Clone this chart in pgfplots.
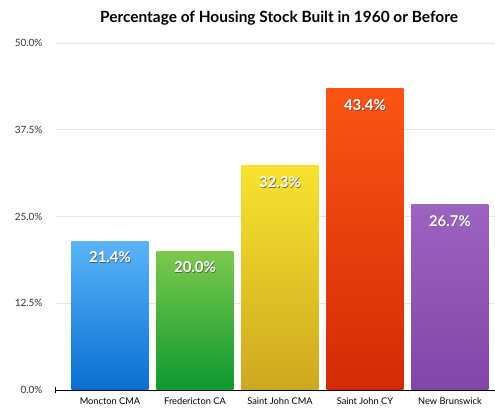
\documentclass[border=0pt]{standalone}
\usepackage{pgfplots}
\pgfplotsset{compat=1.18}
\usepackage{fontspec}
\setmainfont{Lato}
\usetikzlibrary{arrows.meta}
\definecolor{gridc}{HTML}{E6E6E6}
\definecolor{ticktxt}{HTML}{333333}
\begin{document}
\begin{tikzpicture}
\useasboundingbox (0,0) rectangle (495bp,409bp);
\node[font=\bfseries\fontsize{15.5}{17}\selectfont, text=black] at (279bp,391bp) {Percentage of Housing Stock Built in 1960 or Before};
\begin{axis}[
  at={(55bp,19bp)}, anchor=south west,
  scale only axis, width=440bp, height=347bp,
  xmin=-0.647, xmax=4.53, ymin=0, ymax=50,
  ybar, bar width=77bp, bar shift=0pt,
  axis x line*=bottom, axis y line*=left,
  x axis line style={{Bar[width=6bp]}-, black, line width=0.8pt},
  y axis line style={draw=none},
  major tick length=0pt,
  xtick={0,1,2,3,4},
  xticklabels={Moncton CMA, Fredericton CA, Saint John CMA, Saint John CY, New Brunswick},
  xticklabel style={font=\fontsize{9.3}{10}\selectfont, text=black, yshift=-4bp},
  ytick={0,12.5,25,37.5,50},
  yticklabels={0.0\%,12.5\%,25.0\%,37.5\%,50.0\%},
  yticklabel style={font=\fontsize{10}{11}\selectfont, text=ticktxt, xshift=-9bp},
  ymajorgrids, grid style={gridc, line width=0.9pt},
  clip=false,
]
\addplot[draw=none, top color={rgb,255:red,90;green,180;blue,248}, bottom color={rgb,255:red,10;green,111;blue,209}] coordinates {(0,21.4)};
\addplot[draw=none, top color={rgb,255:red,125;green,200;blue,76}, bottom color={rgb,255:red,14;green,153;blue,50}] coordinates {(1,20.0)};
\addplot[draw=none, top color={rgb,255:red,248;green,226;blue,47}, bottom color={rgb,255:red,205;green,168;blue,32}] coordinates {(2,32.3)};
\addplot[draw=none, top color={rgb,255:red,251;green,85;blue,21}, bottom color={rgb,255:red,212;green,42;blue,5}] coordinates {(3,43.4)};
\addplot[draw=none, top color={rgb,255:red,156;green,99;blue,192}, bottom color={rgb,255:red,130;green,69;blue,168}] coordinates {(4,26.7)};
% shadow of labels
\addplot[draw=none, fill=none,
  nodes near coords={\pgfmathprintnumber[assume math mode=true,fixed,precision=1,fixed zerofill]{\pgfplotspointmeta}\%},
  every node near coord/.append style={anchor=north, yshift=-7.8bp, xshift=0.6bp, text=black!75, opacity=0.7, font=\bfseries\fontsize{15}{16}\selectfont}]
  coordinates {(0,21.4) (1,20.0) (2,32.3) (3,43.4) (4,26.7)};
\addplot[draw=none, fill=none,
  nodes near coords={\pgfmathprintnumber[assume math mode=true,fixed,precision=1,fixed zerofill]{\pgfplotspointmeta}\%},
  every node near coord/.append style={anchor=north, yshift=-7bp, text=white, font=\bfseries\fontsize{15}{16}\selectfont}]
  coordinates {(0,21.4) (1,20.0) (2,32.3) (3,43.4) (4,26.7)};
\end{axis}
\end{tikzpicture}
\end{document}
